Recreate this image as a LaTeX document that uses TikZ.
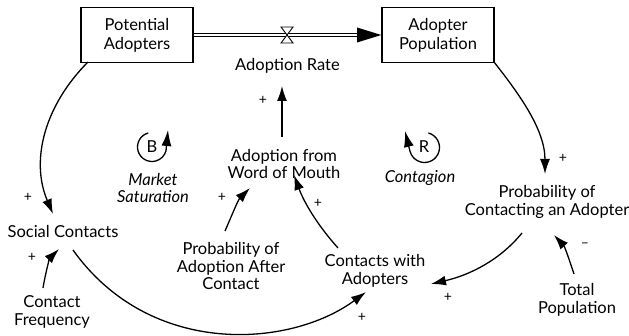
\documentclass[tikz,border=0pt]{standalone}
\usepackage{fontspec}
\setmainfont{Lato}
\usetikzlibrary{arrows.meta}
\begin{document}
\begin{tikzpicture}[x=1pt,y=-1pt,
  txt/.style={font=\fontsize{16.5}{17.5}\selectfont, align=center, inner sep=0pt},
  itxt/.style={txt, font=\fontsize{16.5}{17.5}\selectfont\itshape},
  stock/.style={draw, line width=1.3pt, minimum width=112pt, minimum height=55pt, txt, font=\fontsize{16.5}{19}\selectfont},
  link/.style={line width=1.3pt, -{Latex[length=15pt,width=10pt]}},
  sgn/.style={font=\fontsize{14}{15}\selectfont, inner sep=0pt},
  loopc/.style={line width=1.3pt, -{Latex[length=16pt,width=10pt]}}]
\useasboundingbox (0,0) rectangle (629,336);
% stocks
\node[stock] (pa) at (137,35) {Potential\\Adopters};
\node[stock] (ap) at (438,35) {Adopter\\Population};
% flow pipe
\coordinate (valve) at (287,35);
\coordinate (tipL) at (360,35);
\draw[line width=0.9pt] (pa.east |- 0,33.2) -- (tipL |- 0,33.2);
\draw[line width=0.9pt] (pa.east |- 0,36.8) -- (tipL |- 0,36.8);
\fill (357,27.5) -- (ap.west) -- (357,42.5) -- cycle;
\draw[line width=0.9pt, fill=white] (281,27) -- (293,27) -- (281,43) -- (293,43) -- cycle;
% variables
\node[txt] (ar) at (287.5,66) {Adoption Rate};
\node[txt] (wom) at (284,164) {Adoption from\\Word of Mouth};
\node[txt] (sc) at (63,231) {Social Contacts};
\node[txt] (cf) at (52,312) {Contact\\Frequency};
\node[txt] (paac) at (231,266) {Probability of\\Adoption After\\Contact};
\node[txt] (cwa) at (375,271) {Contacts with\\Adopters};
\node[txt] (pca) at (547,202) {Probability of\\Contacting an Adopter};
\node[txt] (tp) at (577,300) {Total\\Population};
% loops
\node[txt] (bl) at (152,147) {B};
\coordinate (btip) at (168,130);
\draw[loopc] (152,147) ++(-105:14.5) arc[start angle=-105, end angle=-345, radius=14.5] -- (btip);
\node[itxt] (ms) at (153,188) {Market\\Saturation};
\node[txt] (rl) at (424,147) {R};
\coordinate (rtip) at (405,131);
\draw[loopc] (424.5,147.5) ++(-75:15) arc[start angle=-75, end angle=165, radius=15] -- (rtip);
\node[itxt] (cg) at (420,178) {Contagion};
% named link end points
\coordinate (a1s) at (282,137);
\coordinate (a1e) at (282,86);
\coordinate (a2s) at (88,62);
\coordinate (a2e) at (53,214);
\coordinate (a3s) at (494,62);
\coordinate (a3e) at (545,174);
\coordinate (a4s) at (43,288);
\coordinate (a4e) at (59,249);
\coordinate (a5s) at (225,231);
\coordinate (a5e) at (250,188);
\coordinate (a6s) at (338,248);
\coordinate (a6e) at (294,175);
\coordinate (a7s) at (522,233);
\coordinate (a7e) at (431,284);
\coordinate (a8s) at (574,274);
\coordinate (a8e) at (554,235);
\coordinate (a9s) at (73,250);
\coordinate (a9e) at (366,292);
% links
\draw[link] (a1s) -- (a1e);
\draw[link] (a2s) .. controls (45,105) and (30,160) .. (a2e);
\draw[link] (a3s) .. controls (520,95) and (545,130) .. (a3e);
\draw[link] (a4s) .. controls (46,270) and (50,258) .. (a4e);
\draw[link] (a5s) .. controls (232,215) and (238,200) .. (a5e);
\draw[link] (a6s) .. controls (320,228) and (305,205) .. (a6e);
\draw[link] (a7s) .. controls (500,260) and (470,275) .. (a7e);
\draw[link] (a8s) .. controls (570,262) and (565,247) .. (a8e);
\draw[link] (a9s) .. controls (150,358) and (290,348) .. (a9e);
% polarity signs
\node[sgn] (s1) at (263,100) {+};
\node[sgn] (s2) at (28,197) {+};
\node[sgn] (s3) at (563,158) {+};
\node[sgn] (s4) at (32,257) {+};
\node[sgn] (s5) at (222,197) {+};
\node[sgn] (s6) at (318,203) {+};
\node[sgn] (s7) at (448,297) {+};
\node[sgn] (s8) at (585,245) {\textendash};
\node[sgn] (s9) at (362,317) {+};
\end{tikzpicture}
\end{document}
